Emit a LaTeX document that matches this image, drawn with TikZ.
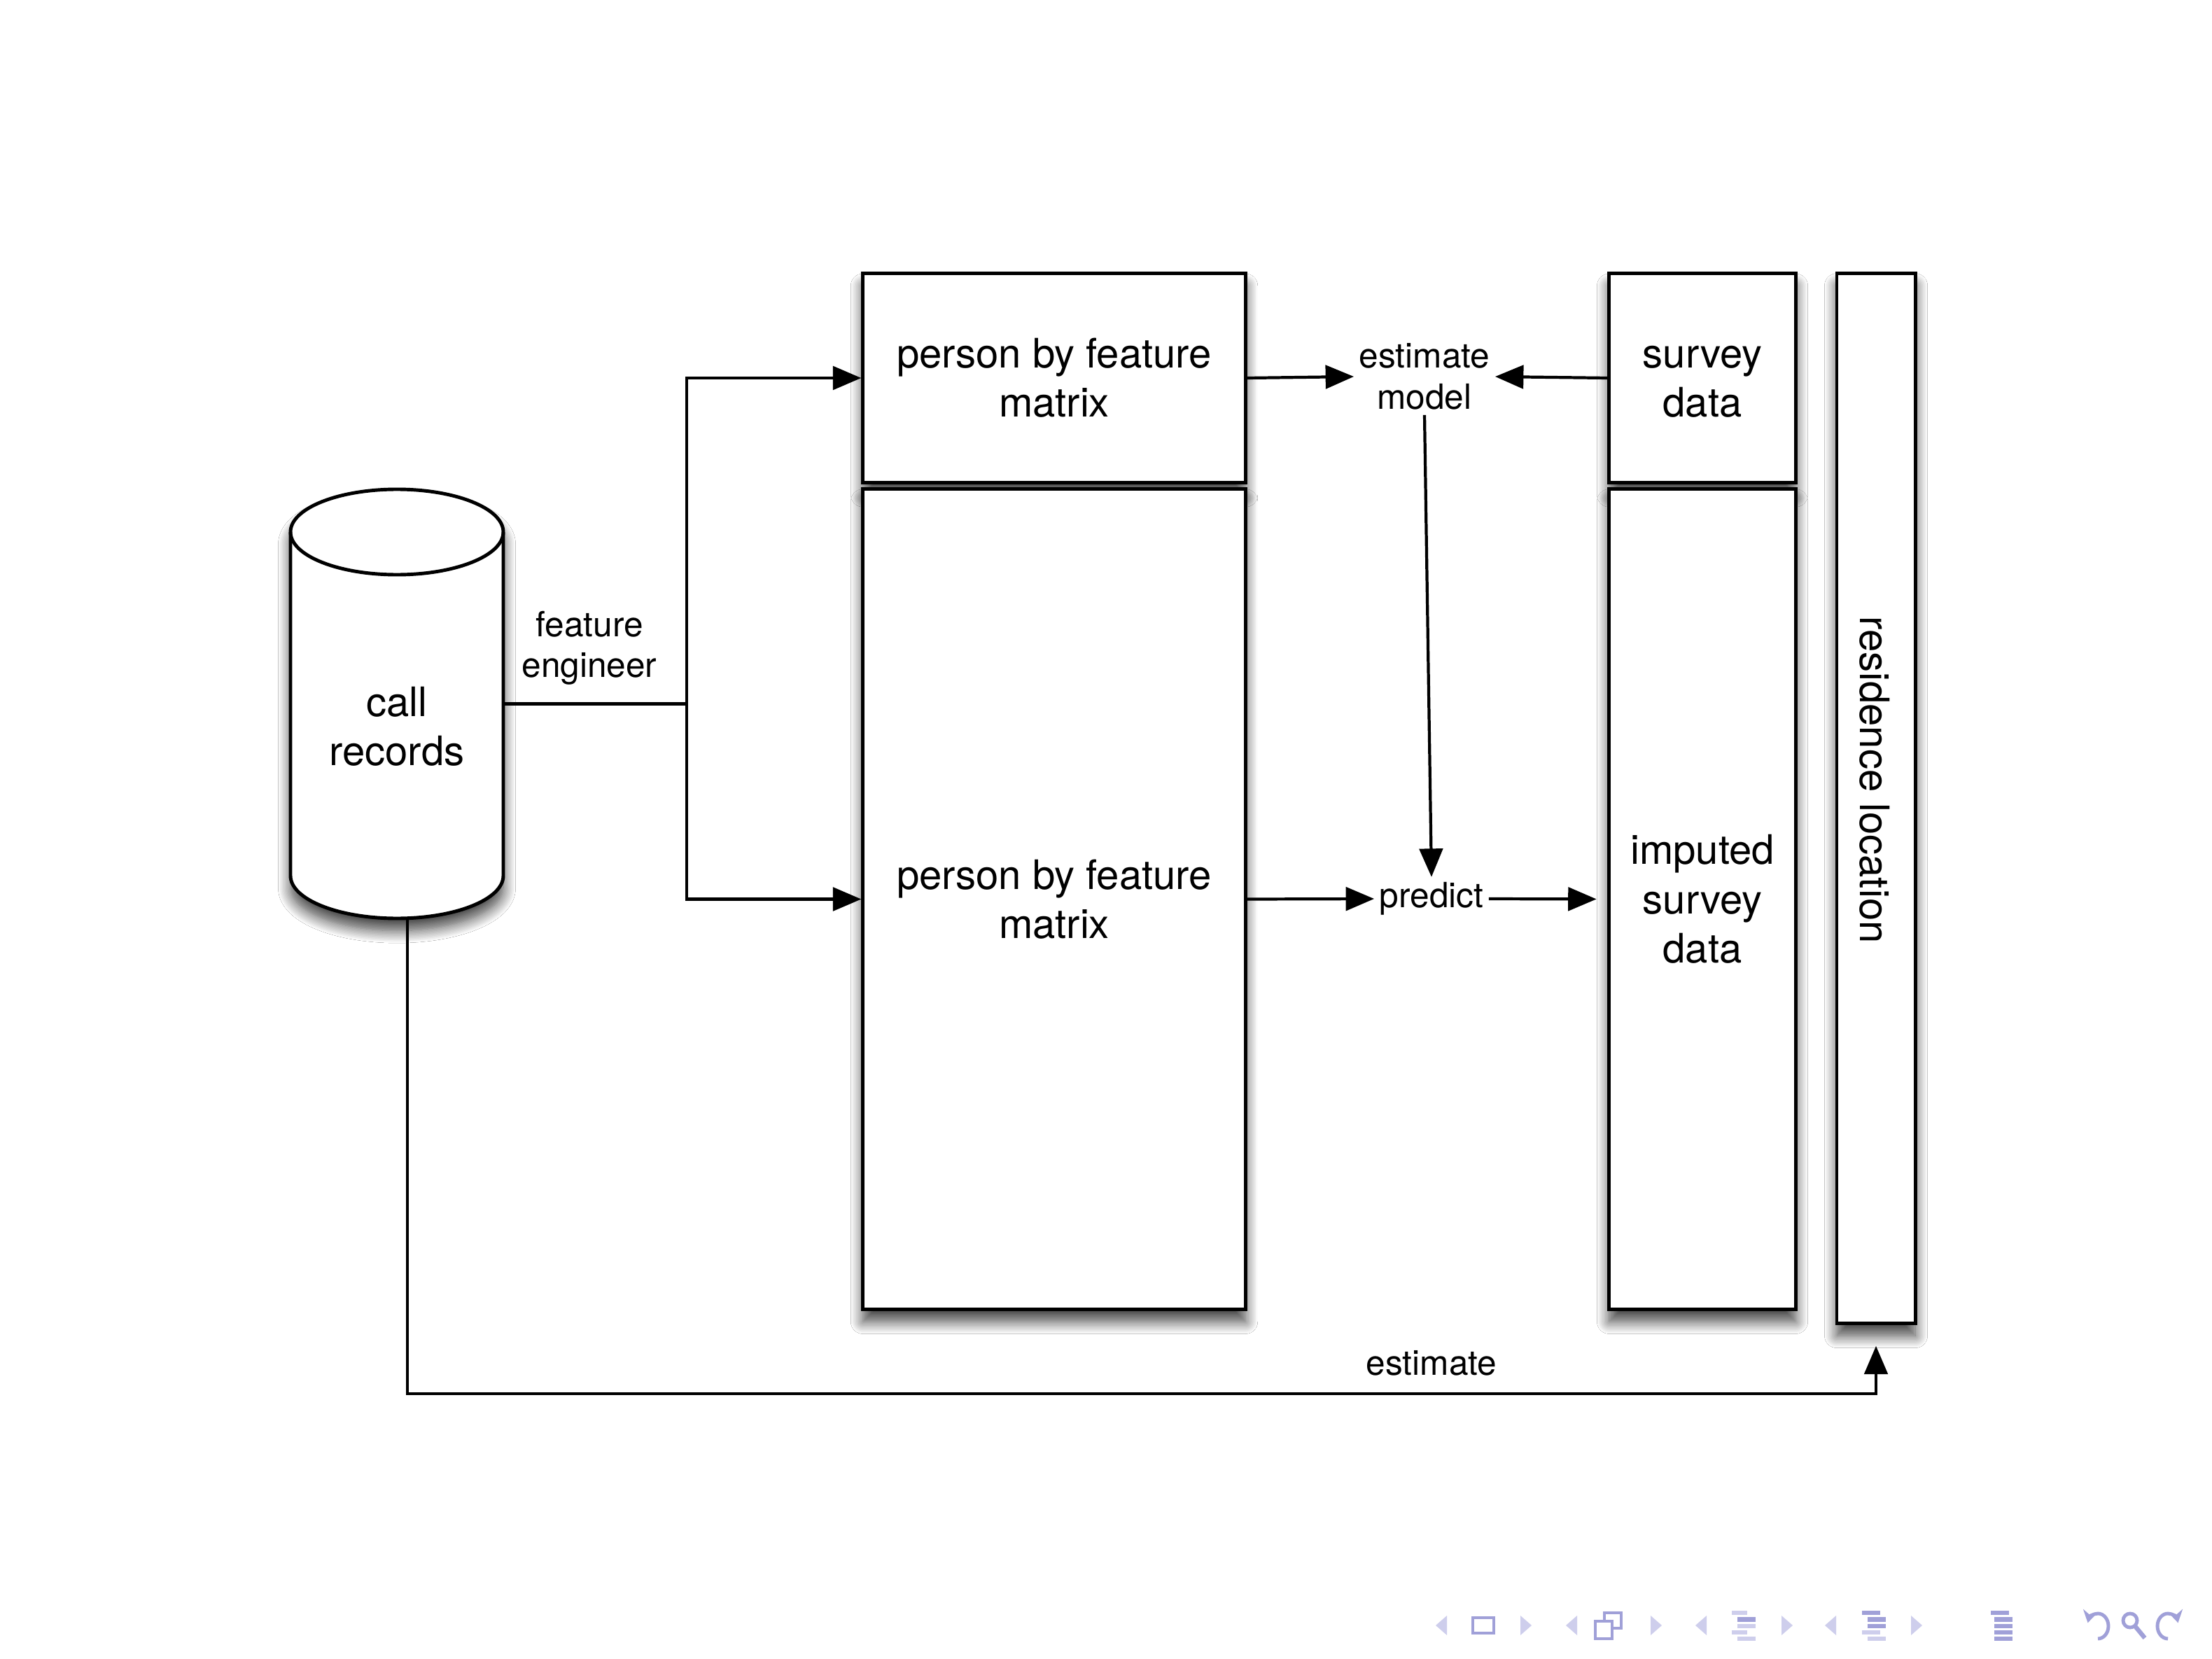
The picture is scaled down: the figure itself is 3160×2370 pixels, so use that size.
\documentclass[tikz,border=0pt]{standalone}
\usepackage{fontspec}
\setmainfont{TeX Gyre Heros}
\usetikzlibrary{arrows.meta,shadows.blur}

\definecolor{navlight}{RGB}{206,206,236}
\definecolor{navdark}{RGB}{160,160,216}

\tikzset{
  big/.style={font=\fontsize{16.5}{20}\selectfont, align=center},
  small/.style={font=\fontsize{14.1}{16.6}\selectfont, align=center, inner sep=2pt},
  softshadow/.style={blur shadow={shadow xshift=0pt, shadow yshift=-5pt,
      shadow blur radius=5pt, shadow blur steps=14, shadow opacity=75}},
  box/.style={draw, line width=1.4pt, fill=white, inner sep=0pt, big, softshadow},
  conn/.style={line width=1.2pt},
  arr/.style={conn, -{Triangle[length=11.5pt,width=9.5pt,fill=black]}},
}

\begin{document}
\begin{tikzpicture}[x=0.01cm,y=0.01cm]
\fill[white] (0,0) rectangle (3160,-2370);
\useasboundingbox (0,0) rectangle (3160,-2370);

% call records cylinder
\path[draw, fill=white, line width=1.4pt, softshadow]
  (415,-760) -- (415,-1251)
  arc[start angle=180, end angle=360, x radius=152, y radius=61]
  -- (719,-760)
  arc[start angle=0, end angle=180, x radius=152, y radius=61] -- cycle;
\draw[line width=1.4pt] (415,-760)
  arc[start angle=180, end angle=360, x radius=152, y radius=61];
\node[inner sep=0pt, minimum width=3.04cm, minimum height=6.13cm] (rec) at (567,-1005.5) {};
\node[big] (rectxt) at (567,-1038) {call\\records};

% matrices and survey blocks
\node[box, minimum width=5.46cm, minimum height=2.98cm] (A) at (1506,-540) {person by feature\\matrix};
\node[box, minimum width=5.46cm, minimum height=11.71cm] (B) at (1506,-1284.5) {person by feature\\matrix};
\node[box, minimum width=2.66cm, minimum height=2.98cm] (S) at (2432,-540) {\vphantom{b}survey\\data};
\node[box, minimum width=2.66cm, minimum height=11.71cm] (I) at (2432,-1284.5) {imputed\\survey\\data};
\node[box, minimum width=1.12cm, minimum height=14.99cm] (R) at (2680,-1140.5) {};
\node[big, rotate=-90] (Rtxt) at (2678,-1114) {residence location};

% step labels
\node[small] (fe) at (842,-926) {feature\\engineer};
\node[small] (em) at (2035,-538) {estimate\\model};
\node[small] (pr) at (2045,-1284) {predict};
\node[small] (es) at (2045,-1947) {estimate};

% connectors
\coordinate (fj) at (981,-1005.5);
\draw[conn] (rec.east) -- (fj);
\draw[arr] (fj) |- (A.west);
\draw[arr] (fj) |- (B.west);
\draw[arr] (A.east) -- (em.west);
\draw[arr] (S.west) -- (em.east);
\draw[arr] (em.south) -- (pr.north);
\draw[arr] (B.east) -- (pr.west);
\draw[arr, shorten >=4.5pt] (pr.east) -- (I.west);
\coordinate (lowL) at (582,-1991);
\coordinate (lowR) at (2680,-1991);
\draw[arr, shorten >=8.5pt] (rec.south -| lowL) -- (lowL) -- (lowR) -- (R.south);

% navigation symbols
\foreach \x in {2059,2245,2430,2615}
  \fill[navlight] (\x+8,-2308) -- (\x-8,-2322) -- (\x+8,-2336) -- cycle;
\foreach \x in {2180,2366,2553,2738}
  \fill[navlight] (\x-8,-2308) -- (\x+8,-2322) -- (\x-8,-2336) -- cycle;
% frame
\draw[navdark, line width=1.2pt] (2104,-2311) rectangle (2134,-2333);
% document
\draw[navdark, line width=1.2pt] (2292,-2304) rectangle (2316,-2326);
\draw[navdark, line width=1.2pt, fill=white] (2279,-2316) rectangle (2303,-2341);
% section
\fill[navlight] (2474,-2301) rectangle (2496,-2307);
\fill[navdark]  (2482,-2310) rectangle (2508,-2317);
\fill[navlight] (2482,-2320) rectangle (2508,-2326);
\fill[navlight] (2474,-2329) rectangle (2496,-2335);
\fill[navlight] (2482,-2338) rectangle (2508,-2344);
% subsection
\fill[navdark]  (2660,-2301) rectangle (2686,-2307);
\fill[navdark]  (2668,-2310) rectangle (2694,-2317);
\fill[navdark]  (2668,-2320) rectangle (2694,-2326);
\fill[navlight] (2660,-2329) rectangle (2686,-2335);
\fill[navlight] (2668,-2338) rectangle (2694,-2344);
% document outline
\fill[navdark] (2844,-2301) rectangle (2870,-2307);
\fill[navdark] (2849,-2310) rectangle (2875,-2317);
\fill[navdark] (2849,-2320) rectangle (2875,-2326);
\fill[navdark] (2849,-2329) rectangle (2875,-2335);
\fill[navdark] (2849,-2338) rectangle (2875,-2344);
% back, search, forward
\draw[navdark, line width=1.4pt, -{Stealth[length=5pt,width=6pt]}]
  (2997,-2341) arc[start angle=-90, end angle=165, x radius=15, y radius=18];
\draw[navdark, line width=1.4pt] (3043,-2315) circle[radius=10];
\draw[navdark, line width=1.8pt] (3050,-2323) -- (3064,-2340);
\draw[navdark, line width=1.4pt, -{Stealth[length=5pt,width=6pt]}]
  (3097,-2341) arc[start angle=270, end angle=15, x radius=15, y radius=18];
\end{tikzpicture}
\end{document}
